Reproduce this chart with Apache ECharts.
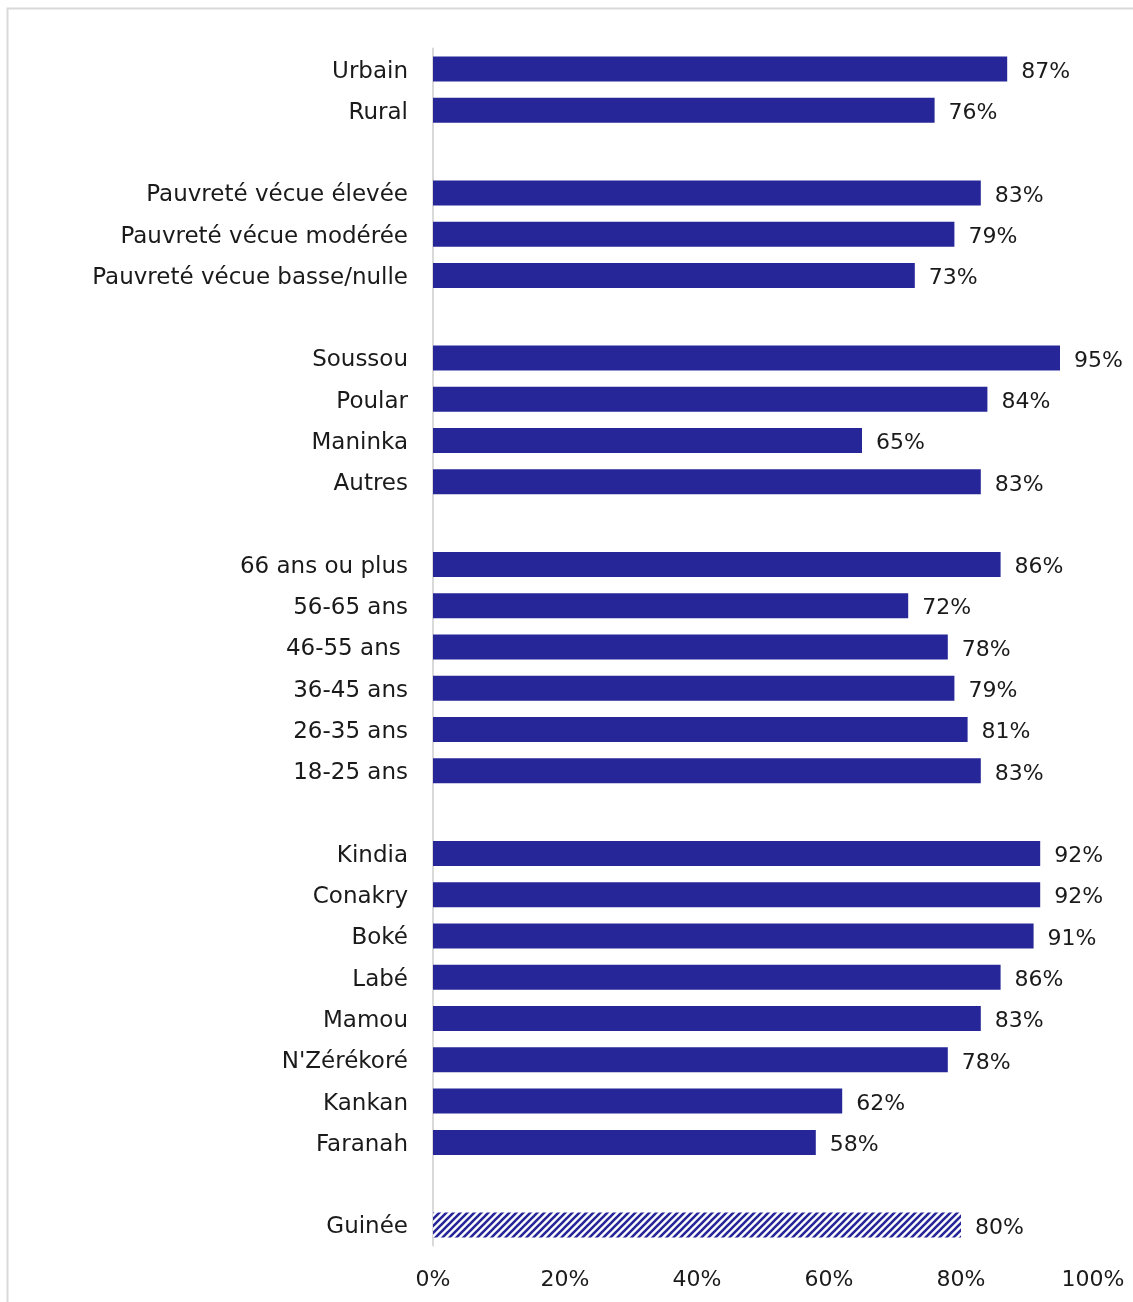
<!DOCTYPE html>
<html>
<head>
<meta charset="utf-8">
<script src="https://cdn.jsdelivr.net/npm/echarts@6/dist/echarts.min.js"></script>
<style>
  html, body { margin: 0; padding: 0; background: #ffffff; }
  #chart { width: 1133px; height: 1302px; }
</style>
</head>
<body>
<div id="chart"></div>
<script>
// Groups of categories (top to bottom) and their shares in percent
const milieuLabels = ['Urbain', 'Rural'];
const milieuValues = [87, 76];

const pauvreteLabels = ['Pauvreté vécue élevée', 'Pauvreté vécue modérée', 'Pauvreté vécue basse/nulle'];
const pauvreteValues = [83, 79, 73];

const ethnieLabels = ['Soussou', 'Poular', 'Maninka', 'Autres'];
const ethnieValues = [95, 84, 65, 83];

const ageLabels = ['66 ans ou plus', '56-65 ans', '46-55 ans ', '36-45 ans', '26-35 ans', '18-25 ans'];
const ageValues = [86, 72, 78, 79, 81, 83];

const regionLabels = ['Kindia', 'Conakry', 'Boké', 'Labé', 'Mamou', "N'Zérékoré", 'Kankan', 'Faranah'];
const regionValues = [92, 92, 91, 86, 83, 78, 62, 58];

const nationalLabel = 'Guinée';
const nationalValue = 80;

const xTicks = [0, 20, 40, 60, 80, 100];

const BAR_COLOR = '#262699';
const TEXT_COLOR = '#1a1a1a';
const FONT = '"DejaVu Sans", sans-serif';

// Diagonal stripe pattern for the national total
function stripePattern() {
  const s = 7;
  const c = document.createElement('canvas');
  c.width = s; c.height = s;
  const g = c.getContext('2d');
  g.fillStyle = '#ffffff';
  g.fillRect(0, 0, s, s);
  g.strokeStyle = BAR_COLOR;
  g.lineWidth = 2.6;
  g.beginPath();
  for (let k = -1; k <= 1; k++) {
    g.moveTo(k * s - 1, s + 1);
    g.lineTo(k * s + s + 1, -1);
  }
  g.stroke();
  return c;
}

// Assemble rows with blank spacer rows between groups
const groups = [
  [milieuLabels, milieuValues],
  [pauvreteLabels, pauvreteValues],
  [ethnieLabels, ethnieValues],
  [ageLabels, ageValues],
  [regionLabels, regionValues]
];
const categories = [];
const barData = [];
let spacer = ' ';
groups.forEach(([labels, values]) => {
  labels.forEach((l, i) => { categories.push(l); barData.push(values[i]); });
  categories.push(spacer); barData.push(null);
  spacer += ' ';
});
categories.push(nationalLabel);
barData.push({
  value: nationalValue,
  itemStyle: { color: { image: stripePattern(), repeat: 'repeat' } }
});

const chart = echarts.init(document.getElementById('chart'), null, { renderer: 'canvas' });
chart.setOption({
  animation: false,
  backgroundColor: '#ffffff',
  graphic: [{
    type: 'rect',
    shape: { x: 7.5, y: 8.5, width: 1300, height: 1400 },
    style: { fill: 'none', stroke: '#d9d9d9', lineWidth: 2 },
    silent: true
  }],
  grid: { left: 433, right: 40, top: 48.4, bottom: 56.4, containLabel: false },
  xAxis: {
    type: 'value',
    min: 0, max: 100, interval: 20,
    axisLine: { show: false },
    axisTick: { show: false },
    splitLine: { show: false },
    axisLabel: {
      margin: 24,
      color: TEXT_COLOR,
      fontFamily: FONT,
      fontSize: 22,
      formatter: v => (xTicks.includes(v) ? v + '%' : '')
    }
  },
  yAxis: {
    type: 'category',
    inverse: true,
    data: categories,
    axisLine: { show: true, lineStyle: { color: '#d9d9d9', width: 2 } },
    axisTick: { show: false },
    axisLabel: {
      margin: 25,
      formatter: v => '{c|' + v + '}',
      rich: {
        c: {
          color: TEXT_COLOR,
          fontFamily: FONT,
          fontSize: 23,
          padding: [5, 0, 0, 0]
        }
      }
    }
  },
  series: [{
    type: 'bar',
    data: barData,
    barWidth: 25,
    itemStyle: { color: BAR_COLOR },
    label: {
      show: true,
      position: 'right',
      distance: 14,
      offset: [0, 3],
      color: TEXT_COLOR,
      fontFamily: FONT,
      fontSize: 22,
      formatter: p => (p.value == null ? '' : p.value + '%')
    }
  }]
});
</script>
</body>
</html>
